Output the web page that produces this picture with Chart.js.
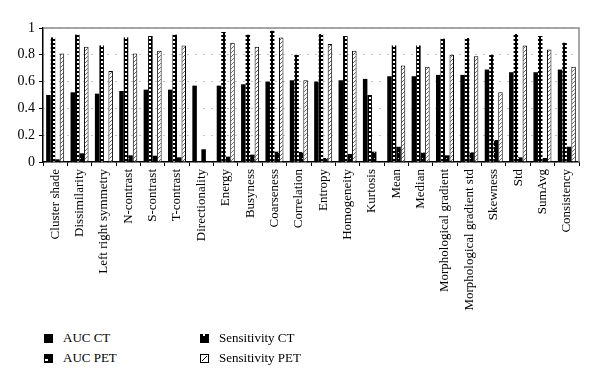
<!DOCTYPE html>
<html>
<head>
<meta charset="utf-8">
<script src="https://cdn.jsdelivr.net/npm/chart.js@4"></script>
<style>
  body { margin: 0; background: #fff; }
  #wrap { position: relative; width: 600px; height: 385px; }
  #box { position: absolute; left: 0; top: 0; width: 600px; height: 312px; }
  #legend { position: absolute; left: 0; top: 330px; width: 600px; font: 13px 'Liberation Serif', serif; color: #000; }
  .item { position: absolute; display: flex; align-items: center; gap: 10px; }
  .item canvas { width: 9px; height: 9px; }
</style>
</head>
<body>
<div id="wrap">
  <div id="box"><canvas id="chart"></canvas></div>
  <div id="legend"></div>
</div>
<script>
const features = ['Cluster shade', 'Dissimilarity', 'Left right symmetry', 'N-contrast', 'S-contrast',
  'T-contrast', 'Directionality', 'Energy', 'Busyness', 'Coarseness', 'Correlation', 'Entropy',
  'Homogeneity', 'Kurtosis', 'Mean', 'Median', 'Morphological gradient', 'Morphological gradient std',
  'Skewness', 'Std', 'SumAvg', 'Consistency'];

const aucCT = [0.50, 0.52, 0.51, 0.53, 0.54, 0.54, 0.57, 0.57, 0.58, 0.60, 0.61, 0.60,
  0.61, 0.62, 0.64, 0.64, 0.65, 0.65, 0.69, 0.67, 0.67, 0.69];
const aucPET = [0.93, 0.95, 0.87, 0.93, 0.94, 0.95, null, 0.97, 0.95, 0.98, 0.80, 0.955,
  0.94, 0.50, 0.87, 0.87, 0.92, 0.925, 0.80, 0.955, 0.94, 0.89];
const sensCT = [0.02, 0.065, 0, 0.05, 0.047, 0.035, 0.095, 0.04, 0.055, 0.077, 0.075, 0.03,
  0.06, 0.077, 0.114, 0.07, 0.05, 0.072, 0.164, 0.035, 0.03, 0.114];
const sensPET = [0.81, 0.86, 0.68, 0.81, 0.83, 0.87, null, 0.89, 0.86, 0.93, 0.61, 0.88,
  0.83, 0, 0.72, 0.71, 0.80, 0.79, 0.52, 0.87, 0.84, 0.71];

const yTicks = [0, 0.2, 0.4, 0.6, 0.8, 1];

// fill patterns for the bars
function makePattern(kind) {
  const c = document.createElement('canvas');
  const g = c.getContext('2d');
  if (kind === 'dots') {
    c.width = 4; c.height = 4;
    g.fillStyle = '#000'; g.fillRect(0, 0, 4, 4);
    g.fillStyle = '#fff'; g.fillRect(1, 1, 2, 2);
  } else if (kind === 'speck') {
    c.width = 6; c.height = 6;
    g.fillStyle = '#000'; g.fillRect(0, 0, 6, 6);
    g.fillStyle = '#bbb'; g.fillRect(2, 2, 1, 1);
  } else {
    c.width = 4; c.height = 4;
    g.fillStyle = '#fff'; g.fillRect(0, 0, 4, 4);
    g.strokeStyle = '#666'; g.lineWidth = 1;
    g.beginPath(); g.moveTo(0, 4); g.lineTo(4, 0); g.stroke();
  }
  return g.createPattern(c, 'repeat');
}

const series = [
  { label: 'AUC CT', data: aucCT, fill: '#000', border: 0, swatch: 'solid' },
  { label: 'AUC PET', data: aucPET, fill: makePattern('dots'), border: 0, swatch: 'dots' },
  { label: 'Sensitivity CT', data: sensCT, fill: makePattern('speck'), border: 0, swatch: 'speck' },
  { label: 'Sensitivity PET', data: sensPET, fill: makePattern('hatch'), border: 1, swatch: 'hatch' }
];

const frame = {
  id: 'frame',
  afterDatasetsDraw(chart) {
    const { ctx, chartArea: a } = chart;
    ctx.save();
    ctx.strokeStyle = '#8a8a8a';
    ctx.lineWidth = 1.5;
    ctx.beginPath();
    ctx.moveTo(a.left, a.top);
    ctx.lineTo(a.right, a.top);
    ctx.lineTo(a.right, a.bottom);
    ctx.stroke();
    ctx.restore();
  }
};

const serif = { family: "'Liberation Serif', serif", size: 13 };

new Chart(document.getElementById('chart'), {
  type: 'bar',
  data: {
    labels: features,
    datasets: series.map(s => ({
      label: s.label,
      data: s.data,
      backgroundColor: s.fill,
      borderColor: '#000',
      borderWidth: s.border,
      categoryPercentage: 0.74,
      barPercentage: 1
    }))
  },
  options: {
    responsive: true,
    maintainAspectRatio: false,
    animation: false,
    layout: { padding: { top: 28, right: 21, left: 0, bottom: 0 } },
    plugins: { legend: { display: false }, tooltip: { enabled: false } },
    scales: {
      x: {
        afterFit: s => { s.height = 150; },
        grid: { drawOnChartArea: false, tickLength: 4, tickColor: '#000', offset: true },
        border: { color: '#000', width: 1.5 },
        ticks: { color: '#000', font: serif, minRotation: 90, maxRotation: 90, autoSkip: false, padding: 3 }
      },
      y: {
        min: 0,
        max: 1,
        afterFit: s => { s.width = 43; },
        grid: { color: '#888', lineWidth: 1, tickLength: 4, tickColor: '#000' },
        border: { color: '#000', width: 1.5, dash: [1, 7] },
        ticks: {
          stepSize: 0.1,
          color: '#000',
          font: { family: "'Liberation Serif', serif", size: 14 },
          padding: 4,
          callback: v => {
            const hit = yTicks.find(t => Math.abs(t - v) < 1e-6);
            return hit === undefined ? '' : String(hit);
          }
        }
      }
    }
  },
  plugins: [frame]
});

// small legend swatches drawn like the printed key
function drawSwatch(g, kind) {
  g.fillStyle = kind === 'hatch' ? '#fff' : '#000';
  g.fillRect(0, 0, 9, 9);
  g.fillStyle = '#fff';
  if (kind === 'dots') {
    g.fillRect(1, 5, 3, 2);
  } else if (kind === 'speck') {
    g.fillRect(3, 0, 2, 2);
  } else if (kind === 'hatch') {
    g.strokeStyle = '#000'; g.lineWidth = 1;
    g.strokeRect(0.5, 0.5, 8, 8);
    g.beginPath(); g.moveTo(2, 7); g.lineTo(7, 2); g.stroke();
  }
}

// legend laid out in two columns like the original
const legend = document.getElementById('legend');
const spots = [[44, 0], [44, 20], [200, 0], [200, 20]];
series.forEach((s, k) => {
  const item = document.createElement('div');
  item.className = 'item';
  item.style.left = spots[k][0] + 'px';
  item.style.top = spots[k][1] + 'px';
  const sw = document.createElement('canvas');
  sw.width = 9; sw.height = 9;
  drawSwatch(sw.getContext('2d'), s.swatch);
  const t = document.createElement('span');
  t.textContent = s.label;
  item.appendChild(sw);
  item.appendChild(t);
  legend.appendChild(item);
});
</script>
</body>
</html>
